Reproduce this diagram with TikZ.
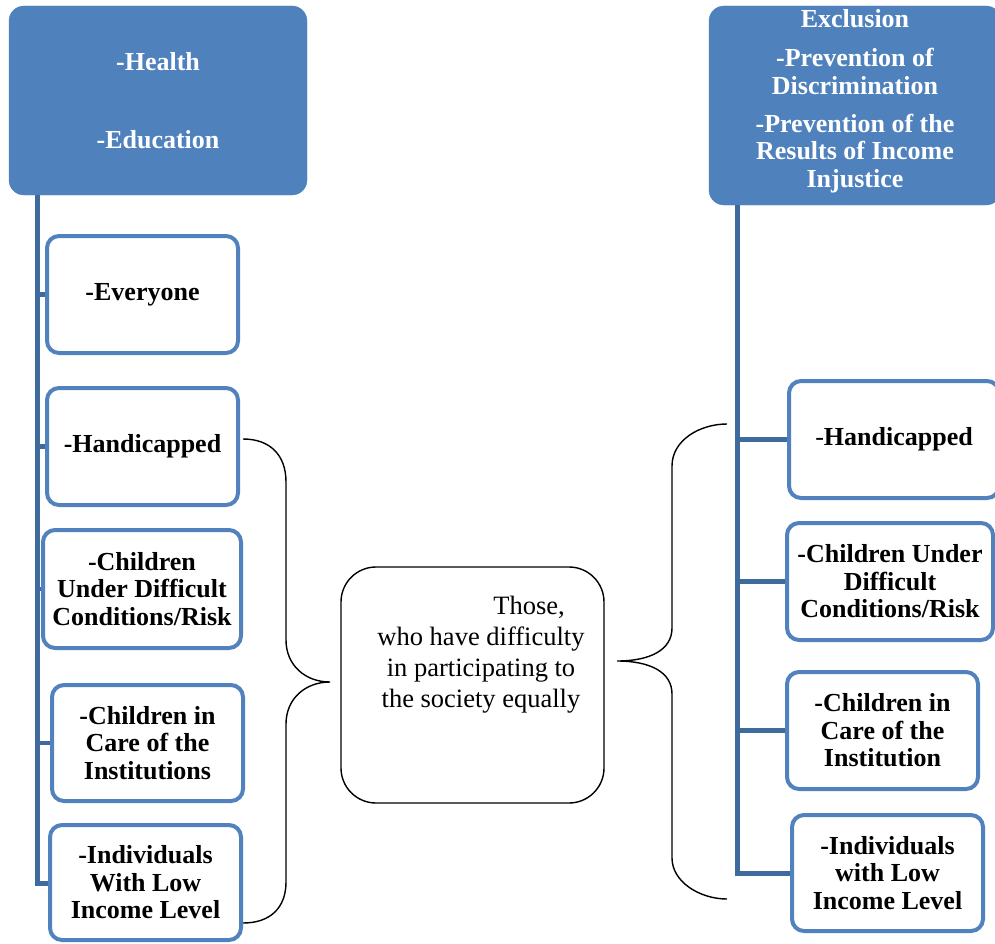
\documentclass[tikz,border=0pt]{standalone}
\usepackage{fontspec}
\setmainfont{Liberation Serif}
\definecolor{topfill}{HTML}{4F81BD}
\definecolor{boxline}{HTML}{5182BE}
\definecolor{spinec}{HTML}{3F6A9E}
\tikzset{
  topbox/.style={fill=topfill, draw=topfill, rounded corners=15pt, inner sep=0pt},
  toptext/.style={text=white, font=\bfseries\fontsize{26}{27.5}\selectfont, align=center, inner sep=0pt},
  itembox/.style={draw=boxline, line width=4pt, fill=white, rounded corners=12pt, inner sep=0pt,
    font=\bfseries\fontsize{26}{27.5}\selectfont, align=center},
  spine/.style={draw=spinec, line width=5pt},
  tick/.style={draw=spinec, line width=4.5pt},
  bracel/.style={draw=black, line width=1.4pt},
  centerbox/.style={draw=black, line width=1.4pt, rounded corners=35pt, minimum width=263pt, minimum height=236pt, inner sep=0pt}
}
\begin{document}
\begin{tikzpicture}[x=1pt,y=-1pt]
\useasboundingbox (0,0) rectangle (995,944);
% top boxes
\node[topbox, minimum width=298pt, minimum height=189pt] (lt) at (158,100.5) {};
\node[toptext] (ltt) at (158,100.5) {-Health\\[50pt]-Education};
\node[topbox, minimum width=292pt, minimum height=199pt] (rt) at (855,105.5) {};
\node[toptext] (rtt) at (855,101) {Exclusion\\[11.5pt]-Prevention of\\Discrimination\\[10.5pt]-Prevention of the\\Results of Income\\Injustice};
% spine coordinates
\coordinate (ls) at (37,195);
\coordinate (le) at (37,883);
\coordinate (rs) at (737,205);
\coordinate (re) at (737,873);
% spines and ticks (drawn first, boxes on top)
\draw[spine] (ls) -- (le) -- (le -| 60,0);
\draw[tick] (ls |- 0,294.5) -- (60,294.5);
\draw[tick] (ls |- 0,446.5) -- (60,446.5);
\draw[tick] (ls |- 0,589) -- (60,589);
\draw[tick] (ls |- 0,743) -- (60,743);
\draw[spine] (rs) -- (re) -- (re -| 800,0);
\draw[tick] (rs |- 0,439.5) -- (800,439.5);
\draw[tick] (rs |- 0,581.5) -- (800,581.5);
\draw[tick] (rs |- 0,730.5) -- (800,730.5);
% left boxes
\node[itembox, minimum width=191pt, minimum height=117pt] (l1) at (142.5,294.5) {-Everyone};
\node[itembox, minimum width=191pt, minimum height=117pt] (l2) at (142.5,446.5) {-Handicapped};
\node[itembox, minimum width=198pt, minimum height=118pt] (l3) at (142,589) {-Children\\Under Difficult\\Conditions/Risk};
\node[itembox, minimum width=191pt, minimum height=116pt] (l4) at (147.5,743) {-Children in\\Care of the\\Institutions};
\node[itembox, minimum width=191pt, minimum height=115pt] (l5) at (145.5,882.5) {-Individuals\\With Low\\Income Level};
% right boxes
\node[itembox, minimum width=210pt, minimum height=117pt] (r1) at (894,439.5) {{\mdseries -}Handicapped};
\node[itembox, minimum width=206pt, minimum height=117pt] (r2) at (890,581.5) {-Children Under\\Difficult\\Conditions/Risk};
\node[itembox, minimum width=191pt, minimum height=117pt] (r3) at (882.5,730.5) {-Children in\\Care of the\\Institution};
\node[itembox, minimum width=191pt, minimum height=116pt] (r4) at (887.5,873) {-Individuals\\with Low\\Income Level};
% center box
\node[centerbox] (c) at (472.5,685) {};
\node[font=\fontsize{26.5}{31}\selectfont, align=center, inner sep=0pt] (ct) at (481,655) {\hspace*{96pt}Those,\\who have difficulty\\in participating to\\the society equally};
% braces
\coordinate (lb1) at (243,439);
\coordinate (lb2) at (243,923);
\coordinate (lbt) at (330,682);
\draw[bracel] (lb1) .. controls (270,439) and (286,455) .. (286,482) -- (286,640)
  .. controls (286,665) and (305,682) .. (lbt)
  .. controls (305,682) and (286,699) .. (286,724) -- (286,882)
  .. controls (286,908) and (270,923) .. (lb2);
\coordinate (rb1) at (727,424);
\coordinate (rb2) at (727,899);
\coordinate (rbt) at (617,661);
\draw[bracel] (rb1) .. controls (700,424) and (672,440) .. (672,466) -- (672,628)
  .. controls (672,650) and (650,661) .. (rbt)
  .. controls (650,661) and (672,672) .. (672,694) -- (672,858)
  .. controls (672,882) and (700,899) .. (rb2);
\end{tikzpicture}
\end{document}
